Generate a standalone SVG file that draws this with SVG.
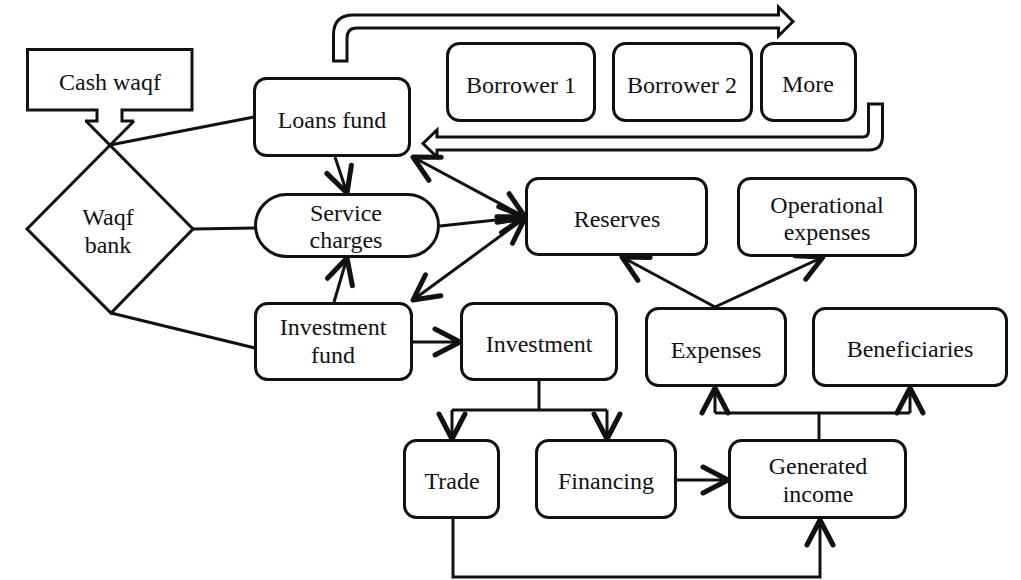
<svg xmlns="http://www.w3.org/2000/svg" width="1021" height="580" viewBox="0 0 1021 580">
<style>
.box{fill:#fff;stroke:#111;stroke-width:3}
.ol{fill:#fff;stroke:#111;stroke-width:3;stroke-linejoin:miter}
.t{font-family:"Liberation Serif","Times New Roman",serif;font-size:24px;fill:#111;text-anchor:middle}
.c{fill:none;stroke:#111;stroke-width:3}
</style>
<defs>
<marker id="ah" viewBox="-30 -17 36 34" markerWidth="36" markerHeight="34" refX="0" refY="0" orient="auto-start-reverse" markerUnits="userSpaceOnUse">
<path d="M-25,-13 L0,0 L-25,13" fill="none" stroke="#111" stroke-width="5" stroke-linecap="round" stroke-linejoin="round"/>
</marker>
</defs>
<rect width="1021" height="580" fill="#fff"/>

<g id="connectors">
<line class="c" x1="110" y1="145" x2="254" y2="117"/>
<line class="c" x1="193" y1="229" x2="255" y2="228"/>
<line class="c" x1="111" y1="313" x2="255" y2="348"/>
<line class="c" x1="335" y1="157" x2="347" y2="193" marker-end="url(#ah)"/>
<line class="c" x1="334" y1="302" x2="347" y2="258" marker-end="url(#ah)"/>
<line class="c" x1="412" y1="342" x2="460" y2="342" marker-end="url(#ah)"/>
<line class="c" x1="440" y1="226" x2="525" y2="217" marker-end="url(#ah)"/>
<line class="c" x1="413" y1="157" x2="525" y2="217" marker-start="url(#ah)" marker-end="url(#ah)"/>
<line class="c" x1="413" y1="300" x2="525" y2="218" marker-start="url(#ah)" marker-end="url(#ah)"/>
<line class="c" x1="715" y1="307" x2="622" y2="257" marker-end="url(#ah)"/>
<line class="c" x1="715" y1="307" x2="823" y2="257" marker-end="url(#ah)"/>
<path class="c" d="M539,381 V410 M452,410 H607"/>
<line class="c" x1="452" y1="410" x2="452" y2="439" marker-end="url(#ah)"/>
<line class="c" x1="607" y1="410" x2="607" y2="439" marker-end="url(#ah)"/>
<line class="c" x1="677" y1="480" x2="728" y2="480" marker-end="url(#ah)"/>
<path class="c" d="M453,519 V577 H820 V520" marker-end="url(#ah)"/>
<path class="c" d="M819,440 V413 M715,413 H910"/>
<line class="c" x1="715" y1="413" x2="715" y2="388" marker-end="url(#ah)"/>
<line class="c" x1="910" y1="413" x2="910" y2="388" marker-end="url(#ah)"/>
</g>

<g id="loan-out-arrow">
<path class="ol" d="M333.5,61 V35 Q333.5,15 353.5,15 H778.5 V7 L793,21.5 L778.5,36 V28 H357 Q347,28 347,38 V61 Z"/>
</g>
<g id="loan-return-arrow">
<path class="ol" d="M868.5,104 V131 Q868.5,137 862.5,137 H437 V130 L423,143.5 L437,157 V150 H869 Q882.5,150 882.5,136 V104 Z"/>
</g>

<g id="cash-waqf">
<path d="M85,121 H97 V110 H27.5 V49.5 H192 V110 H122 V121 H134" fill="none" stroke="#111" stroke-width="3"/>
<text class="t" x="110" y="90">Cash waqf</text>
</g>
<g id="waqf-bank">
<path d="M86,121 L193,229 L111,313 L27,229 L134,121" fill="none" stroke="#111" stroke-width="3"/>
<text class="t" x="108" y="225">Waqf</text>
<text class="t" x="108" y="253">bank</text>
</g>
<g id="loans-fund">
<rect class="box" x="254.5" y="78.5" width="155" height="77" rx="12"/>
<text class="t" x="332" y="128">Loans fund</text>
</g>
<g id="service-charges">
<rect class="box" x="255.5" y="194.5" width="183" height="62" rx="31"/>
<text class="t" x="346" y="221">Service</text>
<text class="t" x="346" y="248">charges</text>
</g>
<g id="investment-fund">
<rect class="box" x="255.5" y="303.5" width="156" height="76" rx="12"/>
<text class="t" x="333" y="335">Investment</text>
<text class="t" x="333" y="363">fund</text>
</g>
<g id="investment">
<rect class="box" x="461.5" y="303.5" width="155" height="76" rx="12"/>
<text class="t" x="539" y="352">Investment</text>
</g>
<g id="reserves">
<rect class="box" x="526.5" y="178.5" width="180" height="76" rx="12"/>
<text class="t" x="617" y="227">Reserves</text>
</g>
<g id="operational-expenses">
<rect class="box" x="738.5" y="178.5" width="177" height="77" rx="12"/>
<text class="t" x="827" y="213">Operational</text>
<text class="t" x="827" y="240">expenses</text>
</g>
<g id="expenses">
<rect class="box" x="646.5" y="308.5" width="139" height="77" rx="12"/>
<text class="t" x="716" y="358">Expenses</text>
</g>
<g id="beneficiaries">
<rect class="box" x="813.5" y="308.5" width="193" height="77" rx="12"/>
<text class="t" x="910" y="357">Beneficiaries</text>
</g>
<g id="trade">
<rect class="box" x="404.5" y="440.5" width="94" height="77" rx="12"/>
<text class="t" x="452" y="489">Trade</text>
</g>
<g id="financing">
<rect class="box" x="536.5" y="440.5" width="139" height="77" rx="12"/>
<text class="t" x="606" y="489">Financing</text>
</g>
<g id="generated-income">
<rect class="box" x="729.5" y="440.5" width="176" height="77" rx="12"/>
<text class="t" x="818" y="474">Generated</text>
<text class="t" x="818" y="502">income</text>
</g>
<g id="borrower-1">
<rect class="box" x="447.5" y="43.5" width="147" height="77" rx="12"/>
<text class="t" x="521" y="93">Borrower 1</text>
</g>
<g id="borrower-2">
<rect class="box" x="613.5" y="43.5" width="138" height="77" rx="12"/>
<text class="t" x="682" y="93">Borrower 2</text>
</g>
<g id="more">
<rect class="box" x="761.5" y="43.5" width="94" height="77" rx="12"/>
<text class="t" x="808" y="92">More</text>
</g>
</svg>
